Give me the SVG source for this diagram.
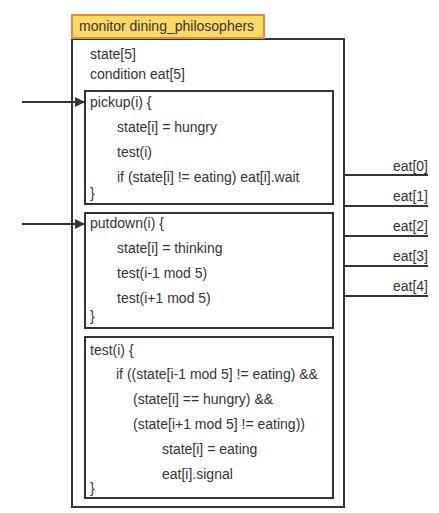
<svg xmlns="http://www.w3.org/2000/svg" width="439" height="513" viewBox="0 0 439 513">
<style>
text{font-family:"Liberation Sans",Arial,sans-serif;font-size:14px;fill:#333}
.box{fill:#fff;stroke:#333;stroke-width:2}
.ln{stroke:#333;stroke-width:2;fill:none}
.r{text-anchor:end}
</style>
<defs>
<marker id="ah" viewBox="0 0 10 10" refX="10" refY="5" markerWidth="10" markerHeight="10" markerUnits="userSpaceOnUse" orient="auto">
<path d="M0,0 L10,5 L0,10 z" fill="#333"/>
</marker>
</defs>
<rect width="439" height="513" fill="#fff"/>
<g id="monitor">
<rect x="72" y="39" width="272" height="468" class="box"/>
<rect x="72" y="15" width="192" height="23" fill="#FFD966" stroke="#E8883A" stroke-width="2"/>
<text x="79" y="31">monitor dining_philosophers</text>
<text x="90" y="59">state[5]</text>
<text x="90" y="79">condition eat[5]</text>
</g>
<g id="pickup">
<rect x="85" y="91" width="248" height="113" class="box"/>
<text x="90" y="107">pickup(i) {</text>
<text x="117" y="132">state[i] = hungry</text>
<text x="117" y="157">test(i)</text>
<text x="117" y="182">if (state[i] != eating) eat[i].wait</text>
<text x="90" y="198">}</text>
</g>
<g id="putdown">
<rect x="85" y="213" width="248" height="115" class="box"/>
<text x="90" y="228">putdown(i) {</text>
<text x="117" y="253">state[i] = thinking</text>
<text x="117" y="278">test(i-1 mod 5)</text>
<text x="117" y="303">test(i+1 mod 5)</text>
<text x="90" y="321">}</text>
</g>
<g id="test">
<rect x="85" y="337" width="248" height="161" class="box"/>
<text x="90" y="355">test(i) {</text>
<text x="116" y="379">if ((state[i-1 mod 5] != eating) &amp;&amp;</text>
<text x="133" y="404">(state[i] == hungry) &amp;&amp;</text>
<text x="133" y="429">(state[i+1 mod 5] != eating))</text>
<text x="162" y="454">state[i] = eating</text>
<text x="162" y="479">eat[i].signal</text>
<text x="90" y="493">}</text>
</g>
<g id="connectors">
<line x1="22" y1="102" x2="85" y2="102" class="ln" marker-end="url(#ah)"/>
<line x1="22" y1="224" x2="85" y2="224" class="ln" marker-end="url(#ah)"/>
<line x1="344" y1="175" x2="428" y2="175" class="ln"/>
<line x1="344" y1="206" x2="428" y2="206" class="ln"/>
<line x1="344" y1="236" x2="428" y2="236" class="ln"/>
<line x1="344" y1="266" x2="428" y2="266" class="ln"/>
<line x1="344" y1="296" x2="428" y2="296" class="ln"/>
<text x="428" y="171" class="r">eat[0]</text>
<text x="428" y="201" class="r">eat[1]</text>
<text x="428" y="231" class="r">eat[2]</text>
<text x="428" y="261" class="r">eat[3]</text>
<text x="428" y="291" class="r">eat[4]</text>
</g>
</svg>
